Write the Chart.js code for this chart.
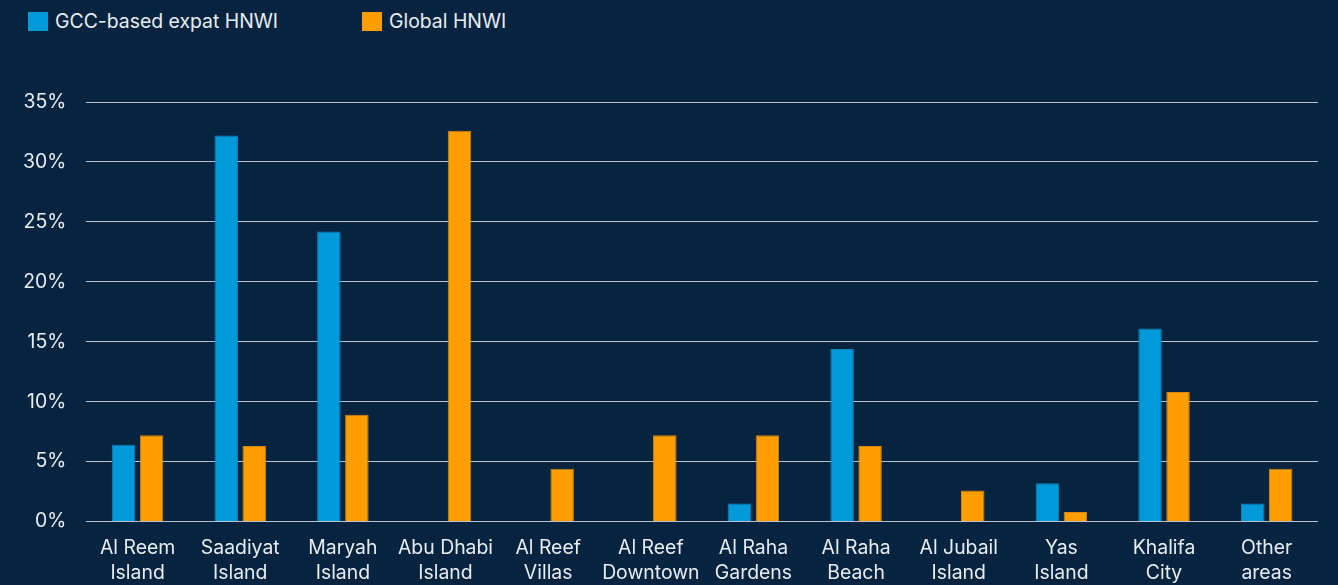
<!DOCTYPE html>
<html>
<head>
<meta charset="utf-8">
<script src="https://cdn.jsdelivr.net/npm/chart.js@4.4.1/dist/chart.umd.min.js"></script>
<style>
  html, body { margin:0; padding:0; background:#062440; }
  #wrap { position:relative; width:1338px; height:585px; background:#062440; }
  #legend { position:absolute; left:28px; top:10px; display:flex; font-family:Inter, "Noto Sans", sans-serif; font-size:19.4px; line-height:22px; color:#e8edf2; }
  .item { display:flex; align-items:center; }
  .box { width:20px; height:19px; margin-right:7px; }
  canvas { position:absolute; left:0; top:0; }
</style>
</head>
<body>
<div id="wrap">
  <div id="legend"></div>
  <canvas id="c" width="1338" height="585"></canvas>
</div>
<script>
const categories = [
  ["Al Reem","Island"],["Saadiyat","Island"],["Maryah","Island"],["Abu Dhabi","Island"],
  ["Al Reef","Villas"],["Al Reef","Downtown"],["Al Raha","Gardens"],["Al Raha","Beach"],
  ["Al Jubail","Island"],["Yas","Island"],["Khalifa","City"],["Other","areas"]
];
const seriesNames = ["GCC-based expat HNWI", "Global HNWI"];
const gccValues    = [6.4, 32.2, 24.2, 0, 0, 0, 1.5, 14.4, 0, 3.2, 16.1, 1.5];
const globalValues = [7.2, 6.3, 8.9, 32.6, 4.4, 7.2, 7.2, 6.3, 2.6, 0.8, 10.8, 4.4];
const colors = ["#009adb", "#ff9e00"];
const borders = ["#0b85bd", "#d9880a"];

const legend = document.getElementById('legend');
seriesNames.forEach((n, i) => {
  const it = document.createElement('div');
  it.className = 'item';
  const b = document.createElement('div');
  b.className = 'box';
  b.style.background = colors[i];
  const t = document.createElement('span');
  t.textContent = n;
  it.appendChild(b); it.appendChild(t);
  legend.appendChild(it);
});
// position second item so its box starts at x=362
const items = legend.querySelectorAll('.item');
const first = items[0].getBoundingClientRect();
items[1].style.marginLeft = (362 - first.right) + 'px';

new Chart(document.getElementById('c'), {
  type: 'bar',
  data: {
    labels: categories,
    datasets: [
      { label: seriesNames[0], data: gccValues, backgroundColor: colors[0], borderColor: borders[0], borderWidth: 1 },
      { label: seriesNames[1], data: globalValues, backgroundColor: colors[1], borderColor: borders[1], borderWidth: 1 }
    ]
  },
  options: {
    responsive: false,
    animation: false,
    layout: { padding: { top: 102, right: 20, left: 3, bottom: -15 } },
    plugins: { legend: { display: false }, tooltip: { enabled: false } },
    datasets: { bar: { categoryPercentage: 0.545, barPercentage: 0.84 } },
    scales: {
      x: {
        grid: { display: false, drawTicks: false },
        border: { display: false },
        ticks: { autoSkip: false, color: '#e8edf2', font: { family: 'Inter', size: 19.4, lineHeight: 1.3 }, maxRotation: 0, padding: 14 }
      },
      y: {
        min: 0, max: 35,
        grid: { color: '#b8c2cc', lineWidth: 1, drawTicks: false },
        border: { display: false },
        ticks: { stepSize: 5, color: '#e8edf2', font: { family: 'Inter', size: 19.4 }, padding: 20,
                 callback: v => v + '%' }
      }
    }
  }
});
</script>
</body>
</html>
